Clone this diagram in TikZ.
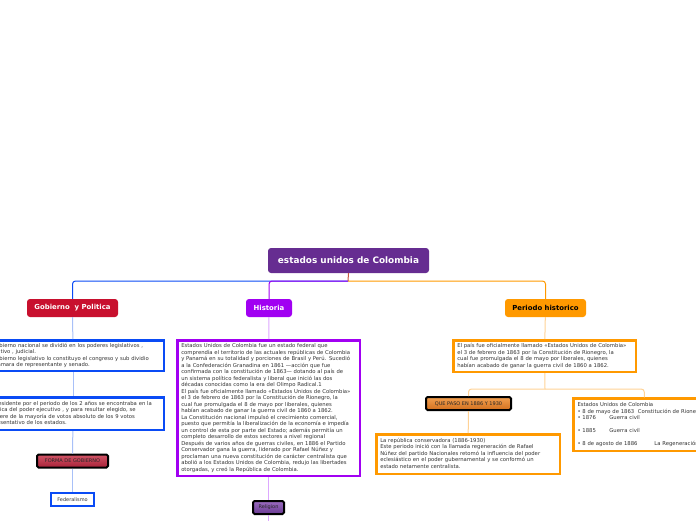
\documentclass[tikz,border=0pt]{standalone}
\usepackage{fontspec}
\setmainfont{DejaVu Sans}
\usepackage{xcolor}
\usepackage{tikz}
\usetikzlibrary{positioning, arrows.meta}
\definecolor{rootpurple}{HTML}{662D91}
\definecolor{gobred}{HTML}{C8102E}
\definecolor{gobblue}{HTML}{0A4BF5}
\definecolor{lightblue}{HTML}{A8C0F8}
\definecolor{histpurple}{HTML}{A100F2}
\definecolor{lightpurple}{HTML}{DDA8FF}
\definecolor{perorange}{HTML}{FF9900}
\definecolor{lightorange}{HTML}{FFD295}
\definecolor{stubred}{HTML}{C8553F}
\definecolor{textgray}{HTML}{333333}
\definecolor{formatop}{HTML}{D25668}
\definecolor{formabottom}{HTML}{A82238}
\definecolor{religtop}{HTML}{9A6CC0}
\definecolor{religbottom}{HTML}{6A3A92}
\definecolor{quetop}{HTML}{F3A050}
\definecolor{quebottom}{HTML}{D2701E}

% keeps the given line breaks, never wraps
\newcommand{\boxlines}[1]{\begin{tabular}{@{}l@{}}#1\end{tabular}}

\tikzset{
    topic/.style={rounded corners=3pt, inner sep=0pt, minimum height=18pt,
                  font=\bfseries\fontsize{6.9}{8}\selectfont},
    textbox/.style={draw, line width=2.5pt, fill=white, align=left, text=textgray,
                    inner xsep=4pt, inner ysep=2pt, font=\fontsize{5.3}{6.5}\selectfont},
    tagbox/.style={draw=black, line width=2pt, rounded corners=1.5pt, inner sep=0pt,
                   minimum height=13pt, text=black!85, font=\fontsize{5}{6}\selectfont},
    link/.style={line width=1pt, rounded corners=3pt},
}

\begin{document}
\begin{tikzpicture}[x=1pt, y=-1pt]
    \useasboundingbox (0,0) rectangle (696,520);
    \clip (0,0) rectangle (696,520);

    \node[topic, fill=rootpurple, text=white, minimum width=161pt, minimum height=25pt,
          font=\bfseries\fontsize{8.9}{10}\selectfont] (root) at (348.5,260.5) {estados unidos de Colombia};
    \coordinate (hub) at (348,281);

    \node[topic, fill=gobred, text=white, minimum width=91pt] (gob) at (72.5,308) {Gobierno \ y Politica};
    \node[topic, fill=histpurple, text=white, minimum width=46pt] (hist) at (269,308) {Historia};
    \node[topic, fill=perorange, text=black, minimum width=81pt] (per) at (545.5,308) {Periodo historico};

    \draw[link, gobblue] (hub) -| (gob.north);
    \draw[link, histpurple] (hub) -| (hist.north);
    \draw[link, perorange] (hub) -| (per.north);
    \draw[line width=1pt, stubred] (root.south) -- (hub);

    % gobierno
    \node[textbox, draw=gobblue, text width=173.5pt, minimum height=30.5pt] (gob1) at (73,355.5) {\boxlines{%
      El gobierno nacional se dividió en los poderes legislativos ,\\
      ejecutivo , judicial.\\
      El gobierno legislativo lo constituyo el congreso y sub dividio\\
      en cámara de representante y senado.}};
    \node[textbox, draw=gobblue, text width=173.5pt, minimum height=32.5pt] (gob2) at (73,413.5) {\boxlines{%
      El presidente por el periodo de los 2 años se encontraba en la\\
      práctica del poder ejecutivo , y para resultar elegido, se\\
      requiere de la mayoría de votos absoluto de los 9 votos\\
      representativo de los estados.}};
    \node[tagbox, top color=formatop, bottom color=formabottom, minimum width=71pt] (forma) at (72.5,461) {FORMA DE GOBIERNO};
    \node[draw=gobblue, line width=2pt, fill=white, inner sep=0pt, minimum width=43pt, minimum height=13pt,
          text=textgray, font=\fontsize{5}{6}\selectfont] (fed) at (72.5,499.5) {Federalismo};

    \draw[line width=1pt, lightblue] (gob) -- (gob1);
    \draw[line width=1pt, lightblue] (gob1) -- (gob2);
    \draw[line width=1pt, lightblue] (gob2) -- (forma);
    \draw[line width=1pt, lightblue] (forma) -- (fed);

    % historia
    \node[textbox, draw=histpurple, text width=174.5pt, minimum height=135.5pt] (hist1) at (268.5,408) {\boxlines{%
      Estados Unidos de Colombia fue un estado federal que\\
      comprendía el territorio de las actuales repúblicas de Colombia\\
      y Panamá en su totalidad y porciones de Brasil y Perú. Sucedió\\
      a la Confederación Granadina en 1861 —acción que fue\\
      confirmada con la constitución de 1863— dotando al país de\\
      un sistema político federalista y liberal que inició las dos\\
      décadas conocidas como la era del Olimpo Radical.1\\
      El país fue oficialmente llamado «Estados Unidos de Colombia»\\
      el 3 de febrero de 1863 por la Constitución de Rionegro, la\\
      cual fue promulgada el 8 de mayo por liberales, quienes\\
      habían acabado de ganar la guerra civil de 1860 a 1862.\\
      La Constitución nacional impulsó el crecimiento comercial,\\
      puesto que permitía la liberalización de la economía e impedía\\
      un control de esta por parte del Estado; además permitía un\\
      completo desarrollo de estos sectores a nivel regional\\
      Después de varios años de guerras civiles, en 1886 el Partido\\
      Conservador gana la guerra, liderado por Rafael Núñez y\\
      proclaman una nueva constitución de carácter centralista que\\
      abolió a los Estados Unidos de Colombia, redujo las libertades\\
      otorgadas, y creó la República de Colombia.}};
    \node[tagbox, top color=religtop, bottom color=religbottom, minimum width=31pt] (relig) at (268.5,507.5) {Religion};
    \coordinate (histend) at (268.5,525);

    \draw[line width=1pt, lightpurple] (hist) -- (hist1);
    \draw[line width=1pt, lightpurple] (hist1) -- (relig);
    \draw[line width=1pt, lightpurple] (relig) -- (histend);

    % periodo historico
    \node[textbox, draw=perorange, text width=174.5pt, minimum height=31.5pt] (per1) at (544.5,356) {\boxlines{%
      El país fue oficialmente llamado «Estados Unidos de Colombia»\\
      el 3 de febrero de 1863 por la Constitución de Rionegro, la\\
      cual fue promulgada el 8 de mayo por liberales, quienes\\
      habían acabado de ganar la guerra civil de 1860 a 1862.}};
    \coordinate (hub2) at (545,389);
    \node[tagbox, top color=quetop, bottom color=quebottom, minimum width=85pt] (quepaso) at (468.5,403.5) {QUE PASO EN 1886 Y 1930};
    \node[textbox, draw=perorange, text width=175.5pt, minimum height=39.5pt] (per2) at (468,454) {\boxlines{%
      La república conservadora (1886-1930)\\
      Este periodo inició con la llamada regeneración de Rafael\\
      Núñez del partido Nacionales retomó la influencia del poder\\
      eclesiástico en el poder gubernamental y se conformó un\\
      estado netamente centralista.}};
    \node[textbox, draw=perorange, anchor=north west, text width=133.5pt, minimum height=52.5pt] (per3) at (572.25,397.25) {\boxlines{%
      Estados Unidos de Colombia\\
      • 8 de mayo de 1863 \ Constitución de Rionegro\\
      • \makebox[27pt][l]{1876}Guerra civil\\
      \\
      • \makebox[27pt][l]{1885}Guerra civil\\
      \\
      • \makebox[72pt][l]{8 de agosto de 1886}La Regeneración}};

    \draw[line width=1pt, lightorange] (per) -- (per1);
    \draw[line width=1pt, lightorange] (per1) -- (hub2);
    \draw[link, lightorange] (hub2) -| (quepaso.north);
    \draw[link, lightorange] (hub2) -| (per3.north);
    \draw[line width=1pt, lightorange] (quepaso) -- (per2);
\end{tikzpicture}
\end{document}
